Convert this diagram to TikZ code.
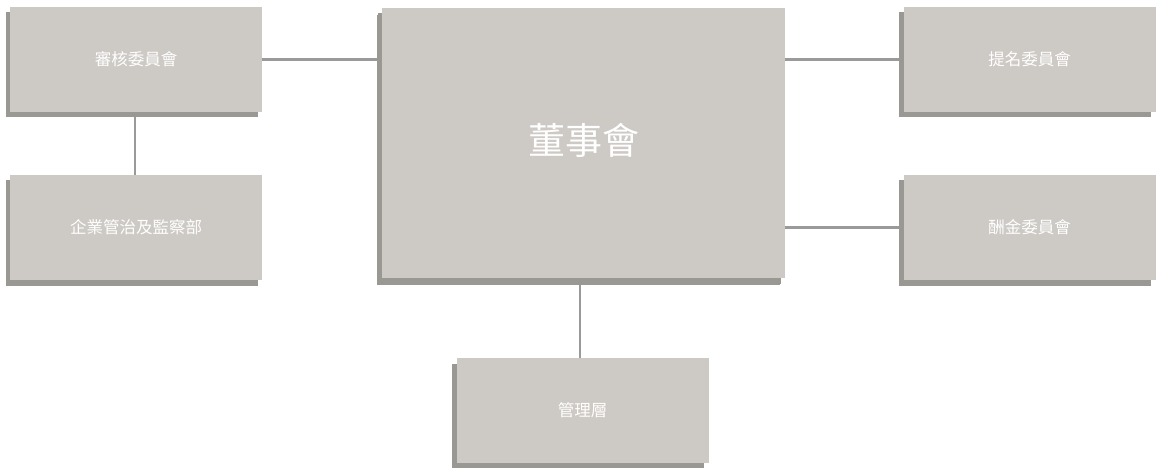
\documentclass[tikz,border=0pt]{standalone}
\usepackage{fontspec}
\newfontfamily\cjk{Noto Sans CJK TC}
\usetikzlibrary{shadows,backgrounds}
\definecolor{boxfill}{HTML}{CDC9C4}
\definecolor{shadowgray}{HTML}{999893}
\definecolor{linegray}{HTML}{9A9A9A}
\tikzset{
  orgbox/.style={rectangle, fill=boxfill, inner sep=0pt, text=white,
    font=\cjk\fontsize{16.5}{18}\selectfont,
    drop shadow={shadow xshift=-4.5pt, shadow yshift=-5.5pt, fill=shadowgray, opacity=1},
    minimum width=252pt, minimum height=105pt},
  link/.style={draw=linegray, line width=2.2pt}
}
\begin{document}
\begin{tikzpicture}[x=1pt,y=-1pt]
\useasboundingbox (0,0) rectangle (1157,468);
\node[orgbox] (audit) at (136,59.5) {審核委員會};
\node[orgbox] (gov) at (136,227.5) {企業管治及監察部};
\node[orgbox, minimum width=403pt, minimum height=270pt,
  font=\cjk\fontsize{37}{40}\selectfont,
  drop shadow={shadow xshift=-5pt, shadow yshift=-7pt, fill=shadowgray, opacity=1}] (board) at (583.5,143) {\raisebox{8pt}{董事會}};
\node[orgbox] (nom) at (1029.5,59.5) {提名委員會};
\node[orgbox] (rem) at (1029.5,227.5) {酬金委員會};
\node[orgbox] (mgmt) at (582.5,410.5) {管理層};
\begin{pgfonlayer}{background}
\fill[white] (0,0) rectangle (1157,468);
\draw[link] (audit.east) -- (board.west |- audit.east);
\draw[link] (board.east |- nom.west) -- (nom.west);
\draw[link] (board.east |- rem.west) -- (rem.west);
\draw[link] ([xshift=-1pt]audit.south) -- ([xshift=-1pt]gov.north);
\draw[link] ([xshift=-3.5pt]board.south) -- ([xshift=-3.5pt]board.south |- mgmt.north);
\end{pgfonlayer}
\end{tikzpicture}
\end{document}
